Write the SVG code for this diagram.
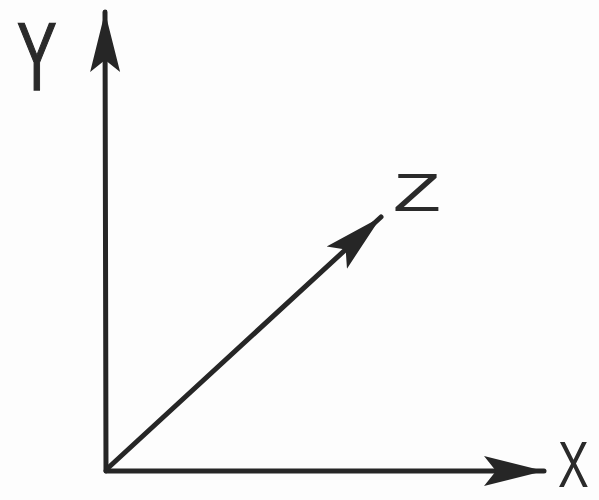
<svg xmlns="http://www.w3.org/2000/svg" width="599" height="500" viewBox="0 0 599 500">
<style>
.axis{stroke:#262626;stroke-width:5;fill:none;stroke-linecap:round}
.lbl{font-family:"Liberation Sans",Arial,sans-serif;fill:#2a2a2a}
</style>
<defs>
<marker id="ah" markerUnits="userSpaceOnUse" markerWidth="64" markerHeight="34" refX="60" refY="17" orient="auto">
<path d="M0,2 L60,17 L0,32 L12,17 Z" fill="#262626"/>
</marker>
</defs>
<rect width="599" height="500" fill="#fdfdfd"/>
<g id="connectors">
<path class="axis" d="M106,471 L105,12" marker-end="url(#ah)"/>
<path class="axis" d="M106,471 L544,471" marker-end="url(#ah)"/>
<path class="axis" d="M108,468 L381,217" marker-end="url(#ah)"/>
</g>
<g id="label-y"><text class="lbl" transform="translate(17,90) scale(0.62,1)" font-size="96" stroke="#2a2a2a" stroke-width="1.5">Y</text></g>
<g id="label-z"><text class="lbl" transform="translate(393,211) scale(1.45,1)" font-size="54">Z</text></g>
<g id="label-x"><text class="lbl" transform="translate(558,487) scale(0.72,1)" font-size="64">X</text></g>
</svg>
